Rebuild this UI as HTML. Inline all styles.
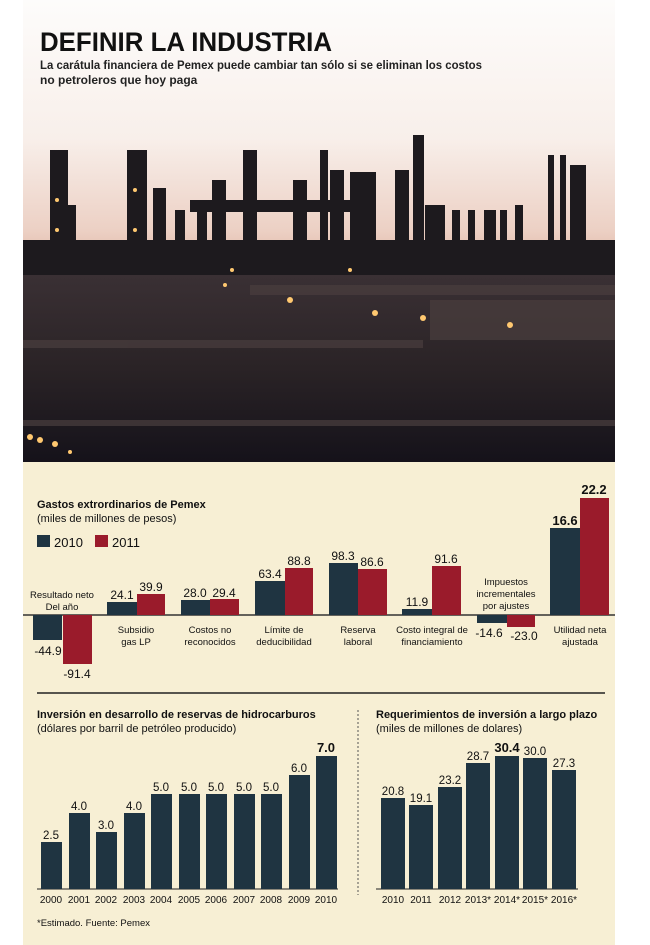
<!DOCTYPE html>
<html><head><meta charset="utf-8"><style>
body{margin:0;width:650px;height:945px;background:#fff;position:relative;overflow:hidden;font-family:"Liberation Sans",sans-serif}
.a{position:absolute}
</style></head><body>
<svg class="a" style="left:0;top:0" width="650" height="945">
<defs>
<linearGradient id="sky" x1="0" y1="0" x2="0" y2="1">
<stop offset="0" stop-color="#fdfcfb"/><stop offset="0.3" stop-color="#f8efea"/><stop offset="0.5" stop-color="#ecd0c4"/><stop offset="0.6" stop-color="#dcae98"/><stop offset="0.68" stop-color="#c48e70"/><stop offset="1" stop-color="#2a2125"/>
</linearGradient>
<linearGradient id="gr" x1="0" y1="0" x2="0" y2="1">
<stop offset="0" stop-color="#3a3034"/><stop offset="0.5" stop-color="#2a2326"/><stop offset="1" stop-color="#15121a"/>
</linearGradient>
</defs>
<rect x="23" y="0" width="592" height="462" fill="url(#sky)"/>
<rect x="23" y="462" width="592" height="483" fill="#f7efd4"/>
<g fill="#1d1a1e">
<rect x="50" y="150" width="18" height="130"/><rect x="62" y="205" width="14" height="80"/>
<rect x="127" y="150" width="20" height="130"/><rect x="153" y="188" width="13" height="90"/>
<rect x="175" y="210" width="10" height="70"/><rect x="190" y="200" width="170" height="12"/>
<rect x="197" y="200" width="10" height="80"/><rect x="243" y="150" width="14" height="130"/>
<rect x="212" y="180" width="14" height="100"/><rect x="293" y="180" width="14" height="100"/>
<rect x="320" y="150" width="8" height="130"/><rect x="330" y="170" width="14" height="110"/>
<rect x="350" y="172" width="26" height="110"/><rect x="395" y="170" width="14" height="110"/>
<rect x="413" y="135" width="11" height="145"/><rect x="425" y="205" width="20" height="75"/>
<rect x="452" y="210" width="8" height="70"/><rect x="468" y="210" width="7" height="70"/>
<rect x="484" y="210" width="12" height="70"/><rect x="500" y="210" width="7" height="70"/>
<rect x="515" y="205" width="8" height="75"/><rect x="548" y="155" width="6" height="125"/>
<rect x="560" y="155" width="6" height="125"/><rect x="570" y="165" width="16" height="80"/>
<rect x="23" y="240" width="592" height="40"/>
</g>
<rect x="23" y="275" width="592" height="187" fill="url(#gr)"/>
<g fill="#4a3e3e" opacity="0.7">
<rect x="250" y="285" width="365" height="10"/><rect x="430" y="300" width="185" height="40"/>
<rect x="23" y="340" width="400" height="8"/><rect x="23" y="420" width="592" height="6"/>
</g>
<g fill="#ffc870">
<circle cx="290" cy="300" r="3"/><circle cx="375" cy="313" r="3"/><circle cx="423" cy="318" r="3"/><circle cx="510" cy="325" r="3"/>
<circle cx="30" cy="437" r="3"/><circle cx="40" cy="440" r="3"/><circle cx="55" cy="444" r="3"/><circle cx="70" cy="452" r="2"/>
<circle cx="57" cy="200" r="2"/><circle cx="57" cy="230" r="2"/><circle cx="135" cy="190" r="2"/><circle cx="135" cy="230" r="2"/>
<circle cx="225" cy="285" r="2"/><circle cx="232" cy="270" r="2"/><circle cx="350" cy="270" r="2"/>
</g>
<text x="40" y="51" font-size="27" font-weight="bold" fill="#111" textLength="292" lengthAdjust="spacingAndGlyphs">DEFINIR LA INDUSTRIA</text>
<text x="40" y="69" font-size="12" font-weight="bold" fill="#222" textLength="442" lengthAdjust="spacingAndGlyphs">La carátula financiera de Pemex puede cambiar tan sólo si se eliminan los costos</text>
<text x="40" y="84" font-size="12" font-weight="bold" fill="#222">no petroleros que hoy paga</text>

<g font-size="11" fill="#111">
<text x="37" y="508" font-weight="bold">Gastos extrordinarios de Pemex</text>
<text x="37" y="522">(miles de millones de pesos)</text>
<rect x="37" y="535" width="13" height="12" fill="#1f3441"/><text x="54" y="547" font-size="13">2010</text>
<rect x="95" y="535" width="13" height="12" fill="#9a1b2b"/><text x="112" y="547" font-size="13">2011</text>
</g>
<line x1="23" y1="615" x2="615" y2="615" stroke="#333" stroke-width="1.5"/>
<g fill="#1f3441">
<rect x="33" y="615" width="29" height="25"/><rect x="107" y="602" width="30" height="13"/><rect x="181" y="600" width="29" height="15"/>
<rect x="255" y="581" width="30" height="34"/><rect x="329" y="563" width="29" height="52"/><rect x="402" y="609" width="30" height="6"/>
<rect x="477" y="615" width="30" height="8"/><rect x="550" y="528" width="30" height="87"/>
</g>
<g fill="#9a1b2b">
<rect x="63" y="615" width="29" height="49"/><rect x="137" y="594" width="28" height="21"/><rect x="210" y="599" width="29" height="16"/>
<rect x="285" y="568" width="28" height="47"/><rect x="358" y="569" width="29" height="46"/><rect x="432" y="566" width="29" height="49"/>
<rect x="507" y="615" width="28" height="12"/><rect x="580" y="498" width="29" height="117"/>
</g>
<g font-size="12" fill="#111" text-anchor="middle">
<text x="48" y="655">-44.9</text><text x="77" y="678">-91.4</text>
<text x="122" y="599">24.1</text><text x="151" y="591">39.9</text>
<text x="195" y="597">28.0</text><text x="224" y="597">29.4</text>
<text x="270" y="578">63.4</text><text x="299" y="565">88.8</text>
<text x="343" y="560">98.3</text><text x="372" y="566">86.6</text>
<text x="417" y="606">11.9</text><text x="446" y="563">91.6</text>
<text x="489" y="637">-14.6</text><text x="524" y="640">-23.0</text>
<text x="565" y="525" font-size="13" font-weight="bold">16.6</text><text x="594" y="494" font-size="13" font-weight="bold">22.2</text>
</g>
<g font-size="9.5" fill="#111" text-anchor="middle">
<text x="62" y="598">Resultado neto</text><text x="62" y="610">Del año</text>
<text x="136" y="633">Subsidio</text><text x="136" y="645">gas LP</text>
<text x="210" y="633">Costos no</text><text x="210" y="645">reconocidos</text>
<text x="284" y="633">Límite de</text><text x="284" y="645">deducibilidad</text>
<text x="358" y="633">Reserva</text><text x="358" y="645">laboral</text>
<text x="432" y="633">Costo integral de</text><text x="432" y="645">financiamiento</text>
<text x="506" y="585">Impuestos</text><text x="506" y="597">incrementales</text><text x="506" y="609">por ajustes</text>
<text x="580" y="633">Utilidad neta</text><text x="580" y="645">ajustada</text>
</g>

<line x1="37" y1="693" x2="605" y2="693" stroke="#222" stroke-width="1.5"/>
<line x1="358" y1="710" x2="358" y2="895" stroke="#555" stroke-dasharray="2,2"/>
<g font-size="11" fill="#111">
<text x="37" y="718" font-weight="bold">Inversión en desarrollo de reservas de hidrocarburos</text>
<text x="37" y="732">(dólares por barril de petróleo producido)</text>
<text x="376" y="718" font-weight="bold">Requerimientos de inversión a largo plazo</text>
<text x="376" y="732">(miles de millones de dolares)</text>
<text x="37" y="926" font-size="9.5">*Estimado. Fuente: Pemex</text>
</g>
<line x1="37" y1="889" x2="338" y2="889" stroke="#222"/>
<line x1="376" y1="889" x2="578" y2="889" stroke="#222"/>
<g fill="#1f3441">
<rect x="41" y="842" width="21" height="47"/><rect x="69" y="813" width="21" height="76"/><rect x="96" y="832" width="21" height="57"/>
<rect x="124" y="813" width="21" height="76"/><rect x="151" y="794" width="21" height="95"/><rect x="179" y="794" width="21" height="95"/>
<rect x="206" y="794" width="21" height="95"/><rect x="234" y="794" width="21" height="95"/><rect x="261" y="794" width="21" height="95"/>
<rect x="289" y="775" width="21" height="114"/><rect x="316" y="756" width="21" height="133"/>
<rect x="381" y="798" width="24" height="91"/><rect x="409" y="805" width="24" height="84"/><rect x="438" y="787" width="24" height="102"/>
<rect x="466" y="763" width="24" height="126"/><rect x="495" y="756" width="24" height="133"/><rect x="523" y="758" width="24" height="131"/>
<rect x="552" y="770" width="24" height="119"/>
</g>
<g font-size="11.5" fill="#111" text-anchor="middle">
<text x="51" y="839">2.5</text><text x="79" y="810">4.0</text><text x="106" y="829">3.0</text><text x="134" y="810">4.0</text>
<text x="161" y="791">5.0</text><text x="189" y="791">5.0</text><text x="216" y="791">5.0</text><text x="244" y="791">5.0</text><text x="271" y="791">5.0</text>
<text x="299" y="772">6.0</text><text x="326" y="752" font-weight="bold" font-size="13">7.0</text>
<text x="393" y="795">20.8</text><text x="421" y="802">19.1</text><text x="450" y="784">23.2</text><text x="478" y="760">28.7</text>
<text x="507" y="752" font-weight="bold" font-size="13">30.4</text><text x="535" y="755">30.0</text><text x="564" y="767">27.3</text>
</g>
<g font-size="10" fill="#111" text-anchor="middle">
<text x="51" y="903">2000</text><text x="79" y="903">2001</text><text x="106" y="903">2002</text><text x="134" y="903">2003</text>
<text x="161" y="903">2004</text><text x="189" y="903">2005</text><text x="216" y="903">2006</text><text x="244" y="903">2007</text>
<text x="271" y="903">2008</text><text x="299" y="903">2009</text><text x="326" y="903">2010</text>
<text x="393" y="903">2010</text><text x="421" y="903">2011</text><text x="450" y="903">2012</text><text x="478" y="903">2013*</text>
<text x="507" y="903">2014*</text><text x="535" y="903">2015*</text><text x="564" y="903">2016*</text>
</g>
</svg>
</body></html>
